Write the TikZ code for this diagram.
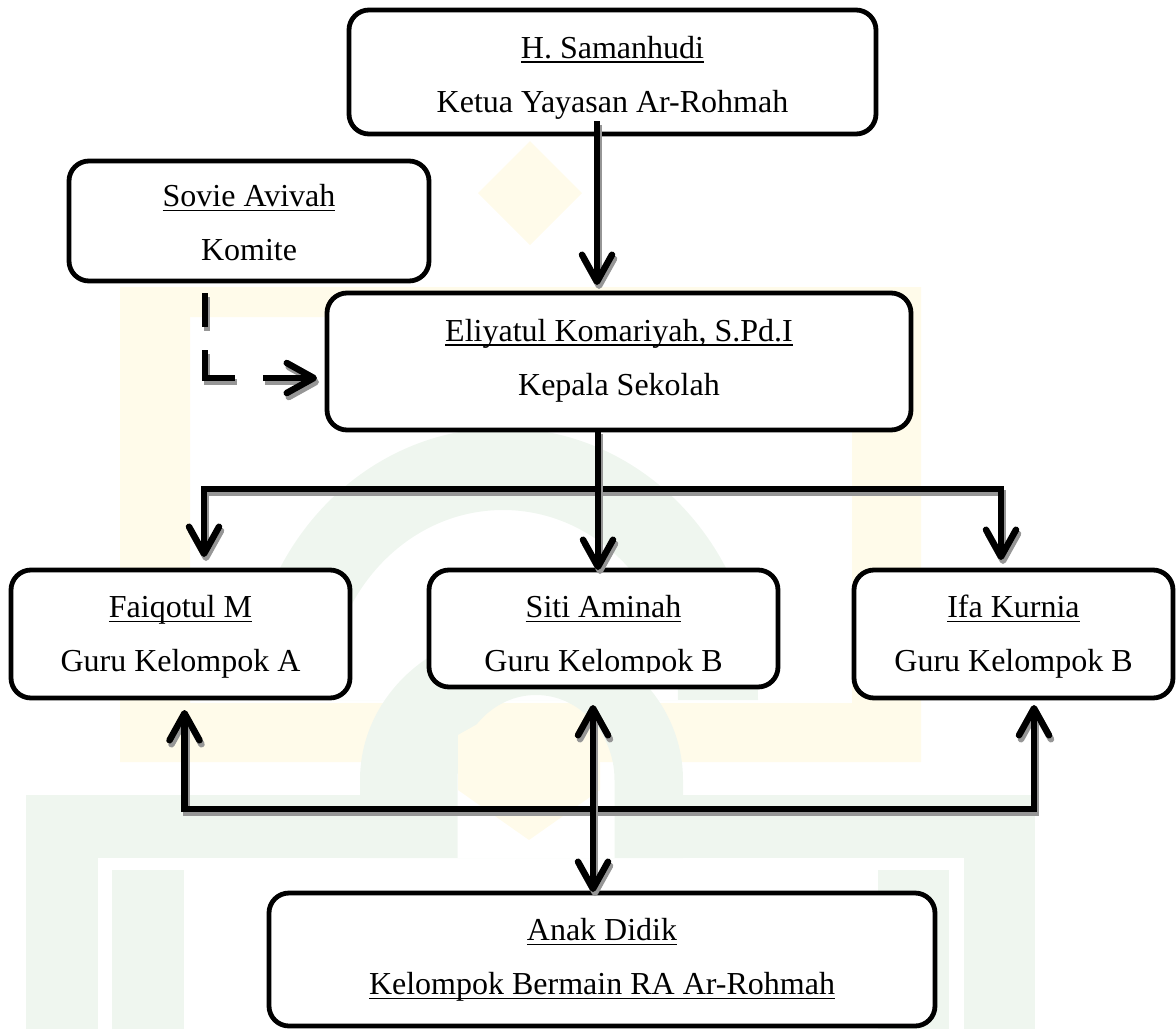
\documentclass[tikz,border=0pt]{standalone}
\usepackage{fontspec}
\setmainfont{Liberation Serif}
\usetikzlibrary{arrows.meta}
\definecolor{wmY}{RGB}{255,251,234}
\definecolor{wmG}{RGB}{239,246,239}
\definecolor{shd}{RGB}{150,150,150}
\newsavebox\ulbox
\newcommand{\myul}[1]{\sbox\ulbox{#1}\rlap{\rule[-4.6pt]{\wd\ulbox}{1.8pt}}\usebox\ulbox}
\newcommand{\twolines}[2]{\begin{tabular}[t]{@{}c@{}}#1\\#2\end{tabular}}
\tikzset{
  chev/.tip={Straight Barb[length=27pt,width=30pt,round]},
  orgbox/.style={draw, line width=4.8pt, rounded corners=20pt, fill=white,
    inner sep=0pt, outer sep=0pt, font=\fontsize{32}{54}\selectfont, text height=30pt},
  conn/.style={line width=6.5pt, line join=miter,
    preaction={draw=shd, line width=6.5pt, transform canvas={shift={(2pt,-4pt)}}}},
  dconn/.style={line width=6.5pt, line join=miter,
    dash pattern=on 34pt off 23pt on 58pt off 28pt on 80pt off 10pt,
    preaction={draw=shd, line width=6.5pt,
      dash pattern=on 34pt off 23pt on 58pt off 28pt on 80pt off 10pt,
      transform canvas={shift={(2pt,-4pt)}}}}
}
\begin{document}
\begin{tikzpicture}[x=1pt,y=-1pt]
\useasboundingbox (0,0) rectangle (1176,1029);
% faint watermark
\fill[wmY, even odd rule] (120,287) rectangle (921,762) (190,317) rectangle (852,703);
\fill[wmY] (530,141) -- (582,193) -- (530,245) -- (478,193) -- cycle;
\fill[wmG, even odd rule]
  (248,700) arc[start angle=180,end angle=360,x radius=255,y radius=272] -- cycle
  (328,700) arc[start angle=180,end angle=360,x radius=175,y radius=190] -- cycle;
\fill[wmG, even odd rule]
  (360,858) -- (360,780) arc[start angle=180,end angle=360,x radius=161.5,y radius=150] -- (683,858) -- cycle
  (457.5,858) -- (457.5,780) arc[start angle=180,end angle=360,x radius=78.5,y radius=85] -- (614.5,858) -- cycle;
\fill[wmY] (458,735) -- (490,717) -- (529,745) -- (568,717) -- (600,735) -- (600,790) -- (529,840) -- (458,790) -- cycle;
\fill[wmG] (26,795) rectangle (360,858);
\fill[wmG] (683,795) rectangle (1035,858);
\fill[wmG] (26,795) rectangle (98,1029);
\fill[wmG] (112,870) rectangle (184,1029);
\fill[wmG] (878,870) rectangle (949,1029);
\fill[wmG] (964,858) rectangle (1035,1029);
% boxes
\node[orgbox, minimum width=527pt, minimum height=124pt, text depth=57.4pt] (ketua) at (612.5,72)
  {\twolines{\myul{H. Samanhudi}}{Ketua Yayasan Ar-Rohmah}};
\node[orgbox, minimum width=360pt, minimum height=120pt, text depth=58.6pt] (komite) at (249,221)
  {\twolines{\myul{Sovie Avivah}}{Komite}};
\node[orgbox, minimum width=584pt, minimum height=137pt, text depth=71pt] (kepala) at (619,361.5)
  {\twolines{\myul{Eliyatul Komariyah, S.Pd.I}}{Kepala Sekolah}};
\node[orgbox, minimum width=339pt, minimum height=128pt, text depth=62.6pt] (faiq) at (180.5,634)
  {\twolines{\myul{Faiqotul M}}{Guru Kelompok A}};
\node[orgbox, minimum width=349pt, minimum height=117pt, text depth=51.6pt] (siti) at (603.5,628.5)
  {\twolines{\myul{Siti Aminah}}{Guru Kelompok B}};
\node[orgbox, minimum width=319pt, minimum height=128pt, text depth=62.6pt] (ifa) at (1013.5,634)
  {\twolines{\myul{Ifa Kurnia}}{Guru Kelompok B}};
\node[orgbox, minimum width=666pt, minimum height=133pt, text depth=67.6pt] (anak) at (602,959.5)
  {\twolines{\myul{Anak Didik}}{\myul{Kelompok Bermain RA Ar-Rohmah}}};
% clipped descender in Siti's box
\fill[white] ([shift={(-135,-14)}]siti.south) rectangle ([shift={(135,-3.2)}]siti.south);
% connectors
\draw[conn,-chev] ([shift={(-15.5,-13)}]ketua.south) -- ([shift={(-22,-8)}]kepala.north);
\draw[dconn,-chev] ([shift={(-44,12)}]komite.south) |- ([shift={(-10,16.5)}]kepala.west);
\draw[conn,chev-chev] ([shift={(23.5,-13)}]faiq.north) -- ++(0,-68) -| ([shift={(-12.5,-10)}]ifa.north);
\draw[conn,-chev] ([shift={(-21,0)}]kepala.south) -- ([shift={(-5.5,0)}]siti.north);
\draw[conn,chev-chev] ([shift={(4,12)}]faiq.south) -- ++(0,99) -| ([shift={(20.5,7)}]ifa.south);
\draw[conn,chev-chev] ([shift={(-10.5,18)}]siti.south) -- ([shift={(-9,-1)}]anak.north);
\end{tikzpicture}
\end{document}
